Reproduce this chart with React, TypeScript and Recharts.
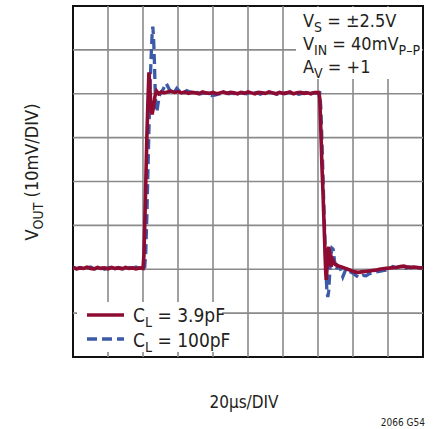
import React from "react";
import { LineChart, Line, XAxis, YAxis, ReferenceLine, ReferenceArea } from "recharts";

// time (µs) and output (mV) for CL = 3.9pF
const redT = [0,2,4,6,8,10,12,14,16,18,20,22,24,26,28,30,32,34,36,38,40,
  40.5,41.0,41.6,42.2,42.8,43.4,43.9,44.5,45.2,46.0,46.8,47.8,49.0,50.5,
  52,54,56,58,60,62,64,66,68,70,72,74,76,78,80,82,84,86,88,90,92,94,96,98,100,
  102,104,106,108,110,112,114,116,118,120,122,124,126,128,130,132,134,136,138,140.4,
  141.0,141.6,142.2,142.8,143.4,144.0,144.4,144.7,145.2,145.7,146.2,146.8,147.5,148.3,149.2,
  151,153,155,157,159,161,163,165,167,169,171,173,175,177,179,181,183,185,187,189,191,193,195,197,199,200];
const redV = [-19.6,-19.9,-19.7,-19.8,-19.5,-19.8,-19.9,-19.6,-19.8,-19.7,-19.9,-19.6,-19.8,-19.7,-19.9,-19.6,-19.8,-19.7,-19.9,-19.7,-19.8,
  -17,-10,0,10,18,24.9,21.5,17,15.3,17.0,19.4,20.6,20.0,20.4,
  20.2,20.4,20.6,20.3,20.5,20.2,20.4,20.1,20.3,20.2,20.0,20.4,20.2,20.1,20.3,20.0,20.2,20.4,20.1,20.3,20.2,20.0,20.3,20.1,20.4,
  20.2,20.0,20.3,20.2,20.1,20.4,20.2,20.0,20.3,20.1,20.2,20.4,20.0,20.2,20.3,20.1,20.2,20.0,20.3,20.3,
  19.0,12,4,-2,-9,-16,-20.5,-22.4,-19.5,-16,-14.9,-17,-19.4,-17.8,-18.6,
  -19.2,-19.4,-19.7,-20.0,-20.3,-20.6,-20.7,-20.6,-20.5,-20.4,-20.3,-20.2,-20.0,-19.9,-19.8,-19.7,-19.6,-19.6,-19.4,-19.3,-19.5,-19.6,-19.5,-19.6,-19.7,-19.6];

// time (µs) and output (mV) for CL = 100pF
const blueT = [0,2,4,6,8,10,12,14,16,18,20,22,24,26,28,30,32,34,36,38,40,
  41.0,41.6,42.2,42.8,43.4,44.0,44.6,45.2,45.6,46.0,46.5,47.0,47.5,47.9,48.5,49.3,50.2,51.5,53.2,54.8,56.4,58,59.3,60.8,62.1,63.5,65,67,
  69,71,73,75,77,79,81,83,85,87,89,91,93,95,97,99,101,103,105,107,109,111,113,115,117,119,121,123,125,127,129,131,133,135,137,139,141.0,
  141.6,142.2,142.8,143.4,144.0,144.6,145.1,145.6,146.1,146.7,147.3,148.0,148.6,149.4,150.4,151.4,152.6,154.2,156.1,158,160,162,163.7,165.5,167.5,169.4,171.3,173,175,177,178.9,181,182.7,184.5,186.5,188.5,190.3,192,194,196,198,200];
const blueV = [-19.5,-19.9,-19.6,-20.0,-19.7,-19.5,-19.9,-19.8,-19.6,-20.0,-19.7,-19.5,-19.9,-19.6,-19.8,-20.0,-19.6,-19.8,-19.5,-19.9,-19.8,
  -19.5,-16,-8,2,12,21,28,33.5,35.3,33,27.7,20.1,16.3,15.8,17.5,19.5,20.3,21.0,22.4,21.2,19.7,20.4,21.2,20.6,19.9,20.2,20.7,20.4,
  20.1,20.3,20.0,20.2,19.8,19.6,19.7,19.9,20.1,20.3,20.0,20.2,19.9,20.1,20.3,20.0,20.2,20.1,20.3,19.9,20.2,20.0,20.3,20.1,19.9,20.2,20.0,20.3,20.1,20.2,19.9,20.1,20.3,20.0,20.2,20.1,20.2,
  17,10,2,-6,-14,-21,-25,-26.3,-25,-21,-17,-15.2,-15.4,-18,-20.2,-19.2,-19.6,-21.7,-19.8,-20.5,-20.9,-21.5,-21.9,-21.4,-21.5,-21.0,-20.9,-20.6,-20.5,-20.3,-20.2,-19.8,-19.4,-19.6,-19.4,-19.7,-19.8,-19.5,-19.6,-19.4,-19.8,-19.6];

const xTicks = [20,40,60,80,100,120,140,160,180];
const yTicks = [-30,-20,-10,0,10,20,30];

const redData = redT.map((t, i) => ({ t, v: redV[i] }));
const blueData = blueT.map((t, i) => ({ t, v: blueV[i] }));

const RED = "#8e0b32";
const BLUE = "#3c5aa8";
const FONT = "'Liberation Sans Narrow', 'DejaVu Sans Condensed', 'Liberation Sans', sans-serif";
const TXT = "#231f20";
const GRID = "#8a8a8a";

const sub: React.CSSProperties = { fontSize: 14, position: "relative", top: 5 };

export default function App() {
  return (
    <div style={{ position: "absolute", left: 0, top: 0, width: 434, height: 429, background: "#fff", fontFamily: FONT, color: TXT }}>
      <LineChart width={434} height={429} margin={{ top: 6, right: 11, bottom: 72, left: 73 }}>
        <XAxis type="number" dataKey="t" domain={[0, 200]} ticks={xTicks} tick={false} axisLine={false} tickLine={false} height={0} allowDataOverflow />
        <YAxis type="number" domain={[-40, 40]} ticks={yTicks} tick={false} axisLine={false} tickLine={false} width={0} allowDataOverflow />
        {xTicks.map((x) => (
          <ReferenceLine key={"x" + x} x={x} stroke={GRID} strokeWidth={1.6} />
        ))}
        {yTicks.map((y) => (
          <ReferenceLine key={"y" + y} y={y} stroke={GRID} strokeWidth={1.6} />
        ))}
        <ReferenceArea x1={0} x2={200} y1={-40} y2={40} fill="none" fillOpacity={0} stroke="#111" strokeWidth={2} />
        <Line data={blueData} dataKey="v" type="linear" stroke={BLUE} strokeWidth={3.3} strokeDasharray="10 5" dot={false} isAnimationActive={false} />
        <Line data={redData} dataKey="v" type="linear" stroke={RED} strokeWidth={3.6} dot={false} isAnimationActive={false} />
      </LineChart>
      {/* annotation box */}
      <div style={{ position: "absolute", left: 296, top: 7, width: 126, height: 72, background: "#fff" }}>
        <div style={{ position: "absolute", left: 7, top: 3, fontSize: 18, lineHeight: "22px", whiteSpace: "nowrap" }}>
          <div>V<span style={sub}>S</span> = ±2.5V</div>
          <div>V<span style={sub}>IN</span> = 40mV<span style={sub}>P–P</span></div>
          <div>A<span style={sub}>V</span> = +1</div>
        </div>
      </div>
      {/* legend box */}
      <div style={{ position: "absolute", left: 77, top: 302, width: 145, height: 50, background: "#fff" }}>
        <svg style={{ position: "absolute", left: 0, top: 0 }} width={60} height={50}>
          <line x1={10} x2={47} y1={13} y2={13} stroke={RED} strokeWidth={3.6} />
          <line x1={10} x2={47} y1={37} y2={37} stroke={BLUE} strokeWidth={3.3} strokeDasharray="10 5" />
        </svg>
        <div style={{ position: "absolute", left: 56, top: 2, fontSize: 19, lineHeight: "23px", whiteSpace: "nowrap" }}>
          <div>C<span style={sub}>L</span> = 3.9pF</div>
          <div>C<span style={sub}>L</span> = 100pF</div>
        </div>
      </div>
      {/* y label */}
      <div style={{ position: "absolute", left: 31, top: 172, transform: "translate(-50%, -50%) rotate(-90deg)", fontSize: 18, whiteSpace: "nowrap" }}>
        V<span style={sub}>OUT</span> (10mV/DIV)
      </div>
      {/* x label */}
      <div style={{ position: "absolute", left: 244, top: 392, transform: "translateX(-50%)", fontSize: 17, whiteSpace: "nowrap" }}>
        20µs/DIV
      </div>
      <div style={{ position: "absolute", left: 425, top: 417, transform: "translateX(-100%)", fontSize: 10, whiteSpace: "nowrap" }}>
        2066 G54
      </div>
    </div>
  );
}
